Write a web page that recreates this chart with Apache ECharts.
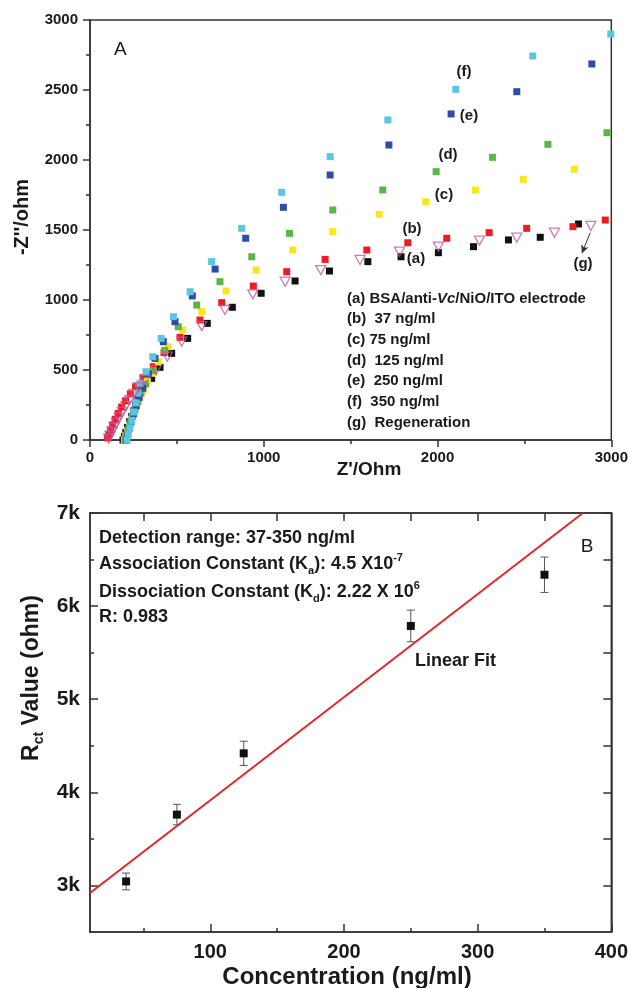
<!DOCTYPE html>
<html>
<head>
<meta charset="utf-8">
<script src="https://cdn.jsdelivr.net/npm/echarts@6/dist/echarts.min.js"></script>
<style>
  html, body { margin: 0; padding: 0; background: #fff; }
  #main { width: 631px; height: 988px; }
</style>
</head>
<body>
<div id="main"></div>
<script>
// ---- panel A: Nyquist data, [Z' , -Z''] in ohm ----
var nyqA = [[190,0],[198,25],[206,55],[216,90],[228,130],[240,168],[252,208],[264,250],[276,300],[292,369],[320,405],[355,440],[403,519],[470,619],[562,726],[675,833],[819,948],[985,1048],[1180,1136],[1378,1207],[1599,1274],[1790,1309],[2005,1338],[2207,1381],[2408,1429],[2591,1448],[2811,1543]];
var nyqB = [[100,15],[108,40],[118,72],[130,108],[145,148],[162,190],[182,235],[205,280],[232,330],[262,380],[305,445],[364,524],[426,624],[518,733],[633,857],[758,981],[940,1100],[1132,1202],[1353,1290],[1593,1357],[1829,1409],[2053,1441],[2297,1481],[2513,1512],[2779,1524],[2965,1571]];
var nyqC = [[198,0],[206,30],[215,65],[226,105],[238,148],[252,195],[268,245],[286,300],[308,360],[330,420],[355,476],[393,559],[451,666],[534,786],[643,917],[783,1064],[956,1214],[1167,1357],[1397,1488],[1664,1612],[1932,1702],[2218,1786],[2493,1862],[2787,1934]];
var nyqD = [[203,0],[211,35],[221,75],[232,120],[245,168],[259,220],[275,275],[294,335],[318,400],[365,495],[430,640],[508,809],[614,964],[748,1131],[931,1309],[1148,1476],[1397,1643],[1685,1786],[1992,1917],[2316,2019],[2635,2112],[2975,2195]];
var nyqE = [[208,0],[216,40],[226,85],[238,135],[251,188],[266,245],[283,305],[304,370],[336,471],[374,583],[422,702],[489,845],[589,1029],[720,1221],[896,1441],[1113,1662],[1382,1893],[1720,2107],[2078,2329],[2456,2488],[2888,2686]];
var nyqF = [[213,0],[220,40],[229,88],[240,140],[252,200],[265,265],[276,335],[288,405],[322,488],[361,595],[409,726],[480,881],[576,1059],[700,1274],[873,1512],[1103,1769],[1382,2024],[1714,2286],[2105,2505],[2548,2743],[2997,2900]];
var nyqG = [[108,10],[116,32],[126,58],[138,88],[152,122],[168,160],[186,200],[206,242],[228,285],[252,330],[280,378],[317,429],[380,500],[445,595],[528,702],[643,814],[777,929],[937,1041],[1123,1131],[1328,1214],[1554,1286],[1781,1345],[2005,1381],[2241,1424],[2456,1445],[2673,1481],[2882,1529]];

var legendLines = [
  '{t|(a) BSA/anti-}{i|Vc}{t|/NiO/ITO electrode}',
  '{t|(b)  37 ng/ml}',
  '{t|(c) 75 ng/ml}',
  '{t|(d)  125 ng/ml}',
  '{t|(e)  250 ng/ml}',
  '{t|(f)  350 ng/ml}',
  '{t|(g)  Regeneration}'
];

// ---- panel B: Rct vs concentration ----
var concentration = [37, 75, 125, 250, 350];
var rctValue = [3043, 3761, 4419, 5787, 6337];
var rctError = [90, 110, 130, 170, 190];
var fitX = [10, 378.7];
var fitY = [2919, 7000];

var xTicksB = [100, 200, 300, 400];
var xMinorB = [50, 150, 250, 350];
var xTopB = [50, 100, 150, 200, 250, 300, 350];
var yTicksB = [3000, 4000, 5000, 6000, 7000];
var yMinorB = [3500, 4500, 5500, 6500];
var yRightB = [3000, 3500, 4000, 4500, 5000, 5500, 6000, 6500, 7000];

var AX = '#333';
var TXT = '#1a1a1a';
var FONT = '"Liberation Sans", Arial, sans-serif';

var chart = echarts.init(document.getElementById('main'));

function sq(color, data, name) {
  return {
    name: name, type: 'scatter', xAxisIndex: 0, yAxisIndex: 0,
    symbol: 'rect', symbolSize: 7, data: data,
    itemStyle: { color: color, opacity: 1 }
  };
}

var errData = concentration.map(function (c, i) {
  return [c, rctValue[i] - rctError[i], rctValue[i] + rctError[i]];
});
var fitData = fitX.map(function (x, i) { return [x, fitY[i]]; });
var rctData = concentration.map(function (c, i) { return [c, rctValue[i]]; });

function txt(x, y, text, size, weight, align, extra) {
  var o = {
    type: 'text', x: x, y: y, silent: true, z: 100,
    style: {
      text: text, fill: TXT, fontFamily: FONT, fontSize: size, fontWeight: weight,
      align: align || 'left', verticalAlign: 'middle'
    }
  };
  if (extra) {
    for (var k in extra) o[k] = extra[k];
  }
  return o;
}

var graphics = [];
// panel A annotations
graphics.push(txt(114, 50, 'A', 19, 'normal'));
graphics.push(txt(464, 72, '(f)', 15, 'bold', 'center'));
graphics.push(txt(469, 116, '(e)', 15, 'bold', 'center'));
graphics.push(txt(448, 155, '(d)', 15, 'bold', 'center'));
graphics.push(txt(444, 195, '(c)', 15, 'bold', 'center'));
graphics.push(txt(412, 229, '(b)', 15, 'bold', 'center'));
graphics.push(txt(416, 259, '(a)', 15, 'bold', 'center'));
graphics.push(txt(583, 264, '(g)', 15, 'bold', 'center'));
legendLines.forEach(function (l, i) {
  var g = txt(347, 298.5 + i * 20.7, l, 15, 'bold');
  g.style.rich = {
    t: { fontSize: 15, fontWeight: 'bold', fontFamily: FONT, fill: TXT },
    i: { fontSize: 15, fontWeight: 'bold', fontStyle: 'italic', fontFamily: FONT, fill: TXT }
  };
  graphics.push(g);
});
graphics.push(txt(22, 217, "-Z''/ohm", 20, 'bold', 'center', { rotation: Math.PI / 2 }));
graphics.push(txt(369, 470, "Z'/Ohm", 19, 'bold', 'center'));

// panel B annotations
var richB = {
  t: { fontSize: 18, fontWeight: 'bold', fontFamily: FONT, fill: TXT, lineHeight: 24 },
  sup: { fontSize: 11, fontWeight: 'bold', fontFamily: FONT, fill: TXT, lineHeight: 12, verticalAlign: 'top' },
  sub: { fontSize: 11, fontWeight: 'bold', fontFamily: FONT, fill: TXT, lineHeight: 12, verticalAlign: 'bottom' }
};
var infoLines = [
  '{t|Detection range: 37-350 ng/ml}',
  '{t|Association Constant (K}{sub|a}{t|): 4.5 X10}{sup|-7}',
  '{t|Dissociation Constant (K}{sub|d}{t|): 2.22 X 10}{sup|6}',
  '{t|R: 0.983}'
];
var infoY = [538, 564, 592, 617];
infoLines.forEach(function (l, i) {
  var g = txt(99, infoY[i], l, 18, 'bold');
  g.style.rich = richB;
  graphics.push(g);
});
graphics.push(txt(587, 547, 'B', 19, 'normal', 'center'));
graphics.push(txt(415, 661, 'Linear Fit', 18, 'bold'));
graphics.push(txt(347, 977, 'Concentration (ng/ml)', 24, 'bold', 'center'));
(function () {
  var g = txt(32, 678, '{b|R}{s|ct}{b| Value (ohm)}', 22, 'bold', 'center', { rotation: Math.PI / 2 });
  g.style.rich = {
    b: { fontSize: 23, fontWeight: 'bold', fontFamily: FONT, fill: TXT, lineHeight: 28 },
    s: { fontSize: 14, fontWeight: 'bold', fontFamily: FONT, fill: TXT, lineHeight: 14, verticalAlign: 'bottom' }
  };
  graphics.push(g);
})();

var axisLine = { show: true, lineStyle: { color: AX, width: 1.5 } };
var tickStyle = { color: AX, width: 1.5 };
var plain = function (v) { return String(v); };

var option = {
  animation: false,
  backgroundColor: '#fff',
  textStyle: { fontFamily: FONT },
  grid: [
    { left: 90, top: 20, width: 522, height: 420, show: true, borderColor: AX, borderWidth: 1.5 },
    { left: 90, top: 513, width: 522, height: 419, show: true, borderColor: AX, borderWidth: 1.5 }
  ],
  xAxis: [
    {
      gridIndex: 0, type: 'value', min: 0, max: 3000, interval: 1000,
      axisLine: axisLine,
      axisTick: { show: true, length: 7, lineStyle: tickStyle },
      minorTick: { show: true, splitNumber: 2, length: 4, lineStyle: tickStyle },
      axisLabel: { fontSize: 15, fontWeight: 'bold', color: TXT, margin: 10, fontFamily: FONT, formatter: plain },
      splitLine: { show: false }
    },
    {
      gridIndex: 1, type: 'value', min: 10, max: 400, position: 'bottom',
      axisLine: axisLine,
      axisTick: { show: true, inside: true, length: 8, lineStyle: tickStyle, customValues: xTicksB },
      axisLabel: { fontSize: 20, fontWeight: 'bold', color: TXT, margin: 10, fontFamily: FONT, customValues: xTicksB, formatter: plain },
      splitLine: { show: false }
    },
    {
      gridIndex: 1, type: 'value', min: 10, max: 400, position: 'bottom',
      axisLine: { show: false },
      axisTick: { show: true, inside: true, length: 4, lineStyle: tickStyle, customValues: xMinorB },
      axisLabel: { show: false },
      splitLine: { show: false }
    },
    {
      gridIndex: 1, type: 'value', min: 10, max: 400, position: 'top',
      axisLine: axisLine,
      axisTick: { show: true, inside: true, length: 8, lineStyle: tickStyle, customValues: xTopB },
      axisLabel: { show: false },
      splitLine: { show: false }
    }
  ],
  yAxis: [
    {
      gridIndex: 0, type: 'value', min: 0, max: 3000, interval: 500,
      axisLine: axisLine,
      axisTick: { show: true, length: 7, lineStyle: tickStyle },
      minorTick: { show: true, splitNumber: 2, length: 4, lineStyle: tickStyle },
      axisLabel: { fontSize: 15, fontWeight: 'bold', color: TXT, margin: 12, fontFamily: FONT, formatter: plain },
      splitLine: { show: false }
    },
    {
      gridIndex: 1, type: 'value', min: 2500, max: 7000, position: 'left',
      axisLine: axisLine,
      axisTick: { show: true, inside: true, length: 8, lineStyle: tickStyle, customValues: yTicksB },
      axisLabel: {
        fontSize: 21, fontWeight: 'bold', color: TXT, margin: 10, fontFamily: FONT, customValues: yTicksB,
        formatter: function (v) { return (v / 1000) + 'k'; }
      },
      splitLine: { show: false }
    },
    {
      gridIndex: 1, type: 'value', min: 2500, max: 7000, position: 'left',
      axisLine: { show: false },
      axisTick: { show: true, inside: true, length: 4, lineStyle: tickStyle, customValues: yMinorB },
      axisLabel: { show: false },
      splitLine: { show: false }
    },
    {
      gridIndex: 1, type: 'value', min: 2500, max: 7000, position: 'right',
      axisLine: axisLine,
      axisTick: { show: true, inside: true, length: 8, lineStyle: tickStyle, customValues: yRightB },
      axisLabel: { show: false },
      splitLine: { show: false }
    }
  ],
  graphic: graphics,
  series: [
    sq('#111111', nyqA, 'a'),
    sq('#ED1C24', nyqB, 'b'),
    sq('#F7E71C', nyqC, 'c'),
    sq('#5BB848', nyqD, 'd'),
    sq('#2E4DA4', nyqE, 'e'),
    sq('#5CC6DE', nyqF, 'f'),
    {
      name: 'g', type: 'scatter', xAxisIndex: 0, yAxisIndex: 0,
      symbol: 'triangle', symbolRotate: 180, symbolSize: [10, 9], data: nyqG,
      itemStyle: { color: 'rgba(255,255,255,0)', borderColor: '#C4579F', borderWidth: 1.3 },
      markLine: {
        silent: true, symbol: ['none', 'arrow'], symbolSize: [6, 8],
        lineStyle: { color: '#333', width: 1, type: 'solid' },
        label: { show: false },
        data: [[{ coord: [2878, 1480] }, { coord: [2831, 1334] }]]
      }
    },
    {
      type: 'line', xAxisIndex: 1, yAxisIndex: 1, data: fitData,
      symbol: 'none', lineStyle: { color: '#E4262B', width: 2 }, z: 2
    },
    {
      type: 'custom', xAxisIndex: 1, yAxisIndex: 1, data: errData, z: 3,
      encode: { x: 0, y: [1, 2] },
      renderItem: function (params, api) {
        var x = api.value(0);
        var top = api.coord([x, api.value(2)]);
        var bot = api.coord([x, api.value(1)]);
        var w = 4;
        var st = { stroke: '#555', lineWidth: 1 };
        return {
          type: 'group',
          children: [
            { type: 'line', shape: { x1: top[0], y1: top[1], x2: bot[0], y2: bot[1] }, style: st },
            { type: 'line', shape: { x1: top[0] - w, y1: top[1], x2: top[0] + w, y2: top[1] }, style: st },
            { type: 'line', shape: { x1: bot[0] - w, y1: bot[1], x2: bot[0] + w, y2: bot[1] }, style: st }
          ]
        };
      }
    },
    {
      type: 'scatter', xAxisIndex: 1, yAxisIndex: 1, data: rctData, z: 4,
      symbol: 'rect', symbolSize: 8, itemStyle: { color: '#111', opacity: 1 }
    }
  ]
};

chart.setOption(option);
</script>
</body>
</html>
